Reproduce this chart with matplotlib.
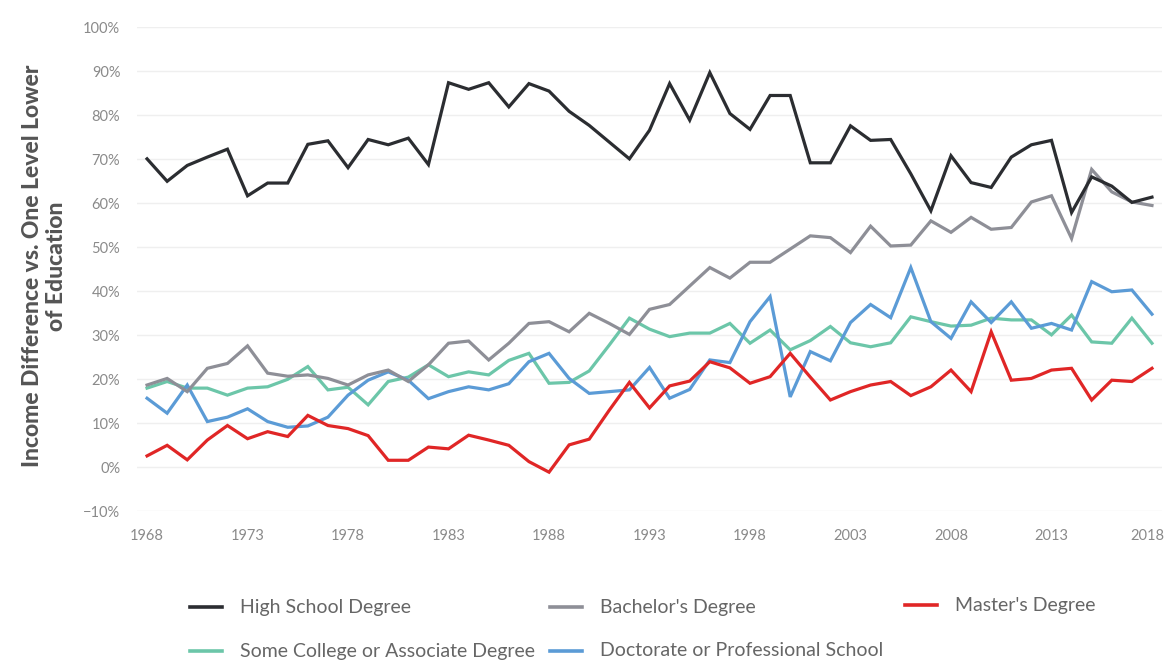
import matplotlib
matplotlib.use("Agg")
import matplotlib.pyplot as plt
import matplotlib.transforms as mtransforms
from matplotlib.lines import Line2D

years = list(range(1968, 2019))

high_school = [70.1, 65.0, 68.6, 70.5, 72.3, 61.7, 64.6, 64.6, 73.4, 74.2,
               68.1, 74.5, 73.3, 74.8, 68.8, 87.4, 85.9, 87.4, 81.9, 87.2,
               85.5, 80.9, 77.7, 73.9, 70.1, 76.6, 87.2, 78.9, 89.7, 80.4,
               76.8, 84.5, 84.5, 69.2, 69.2, 77.6, 74.3, 74.5, 66.7, 58.3,
               70.8, 64.7, 63.6, 70.5, 73.3, 74.3, 57.9, 66.0, 63.9, 60.2,
               61.4]

bachelors = [18.7, 20.2, 17.2, 22.5, 23.6, 27.6, 21.4, 20.7, 21.0, 20.2,
             18.7, 21.0, 22.1, 19.5, 23.3, 28.2, 28.7, 24.4, 28.2, 32.7,
             33.1, 30.8, 35.0, 32.7, 30.2, 35.9, 37.0, 41.2, 45.4, 43.0,
             46.6, 46.6, 49.6, 52.6, 52.2, 48.8, 54.8, 50.3, 50.5, 56.0,
             53.4, 56.8, 54.1, 54.5, 60.3, 61.7, 52.0, 67.7, 62.6, 60.3,
             59.5]

masters = [2.6, 5.0, 1.7, 6.2, 9.5, 6.5, 8.1, 7.0, 11.8, 9.5,
           8.8, 7.2, 1.6, 1.6, 4.6, 4.2, 7.3, 6.2, 5.0, 1.3,
           -1.1, 5.1, 6.4, 13.0, 19.3, 13.5, 18.5, 19.6, 24.0, 22.6,
           19.1, 20.6, 25.9, 20.5, 15.3, 17.2, 18.7, 19.5, 16.3, 18.3,
           22.1, 17.2, 30.8, 19.8, 20.2, 22.1, 22.5, 15.3, 19.8, 19.5,
           22.5]

some_college = [18.0, 19.5, 18.0, 18.0, 16.4, 18.0, 18.3, 20.0, 22.9, 17.6,
                18.2, 14.2, 19.5, 20.5, 23.3, 20.6, 21.7, 21.0, 24.3, 25.9,
                19.1, 19.3, 21.9, 27.8, 33.9, 31.4, 29.7, 30.5, 30.5, 32.7,
                28.2, 31.2, 26.7, 28.8, 32.0, 28.3, 27.4, 28.3, 34.2, 33.1,
                32.1, 32.3, 33.9, 33.5, 33.5, 30.1, 34.6, 28.5, 28.2, 33.9,
                28.2]

doctorate = [15.7, 12.3, 18.7, 10.4, 11.4, 13.3, 10.4, 9.1, 9.4, 11.4,
             16.4, 19.8, 21.7, 19.8, 15.6, 17.2, 18.3, 17.6, 19.0, 24.0,
             25.9, 20.2, 16.8, 17.2, 17.6, 22.7, 15.7, 17.7, 24.4, 23.8,
             33.1, 38.8, 16.0, 26.3, 24.2, 32.9, 37.0, 34.0, 45.4, 33.1,
             29.3, 37.6, 32.9, 37.6, 31.6, 32.7, 31.2, 42.2, 39.9, 40.3,
             34.8]

series = [
    ("High School Degree", high_school, "#2b2d31"),
    ("Bachelor's Degree", bachelors, "#8e8f97"),
    ("Master's Degree", masters, "#e02626"),
    ("Some College or Associate Degree", some_college, "#6cc6a9"),
    ("Doctorate or Professional School", doctorate, "#5b9bd6"),
]

x_ticks = list(range(1968, 2019, 5))
y_ticks = list(range(-10, 101, 10))

plt.rcParams['font.family'] = ['Lato', 'DejaVu Sans']

fig = plt.figure(figsize=(11.64, 6.62), dpi=100)
ax = fig.add_axes([0.1177, 0.2276, 0.8806, 0.7312])

# draw order: bottom lines first so high school sits on top
for name, vals, col in [series[3], series[4], series[2], series[1], series[0]]:
    ax.plot(years, vals, color=col, lw=2.3, solid_joinstyle='miter')

ax.set_xlim(1967.5, 2018.5)
ax.set_ylim(-10, 100)
ax.set_xticks(x_ticks)
ax.set_yticks(y_ticks)
ax.set_yticklabels(["\u221210%" if v < 0 else f"{v}%" for v in y_ticks])
ax.grid(axis='y', color='#efefef', lw=1)
ax.set_axisbelow(True)
for s in ax.spines.values():
    s.set_visible(False)
ax.tick_params(length=0, labelsize=10.5, labelcolor='#8a8a8a')
ax.tick_params(axis='x', pad=13)
ax.tick_params(axis='y', pad=12)

# nudge the 2018 label so it stays inside the canvas
last = ax.get_xticklabels()[-1]
last.set_transform(last.get_transform() +
                   mtransforms.ScaledTranslation(-5 / 100, 0, fig.dpi_scale_trans))

fig.text(0.038, 0.598, "Income Difference vs. One Level Lower\nof Education",
         rotation=90, ha='center', va='center', fontsize=16.5,
         fontweight='black', color='#555555', linespacing=1.15)

# legend laid out by hand in figure pixels
leg_pos = [(190, 607), (550, 607), (905, 605), (190, 651), (550, 651)]
W, H = 1164, 662
for (name, vals, col), (px, py) in zip(series, leg_pos):
    fy = 1 - py / H
    fig.add_artist(Line2D([px / W, (px + 32) / W], [fy, fy], color=col,
                          lw=2.6, transform=fig.transFigure))
    fig.text((px + 50) / W, fy, name, ha='left', va='center', fontsize=14,
             color='#666666')

fig.savefig("out.png", dpi=100)
